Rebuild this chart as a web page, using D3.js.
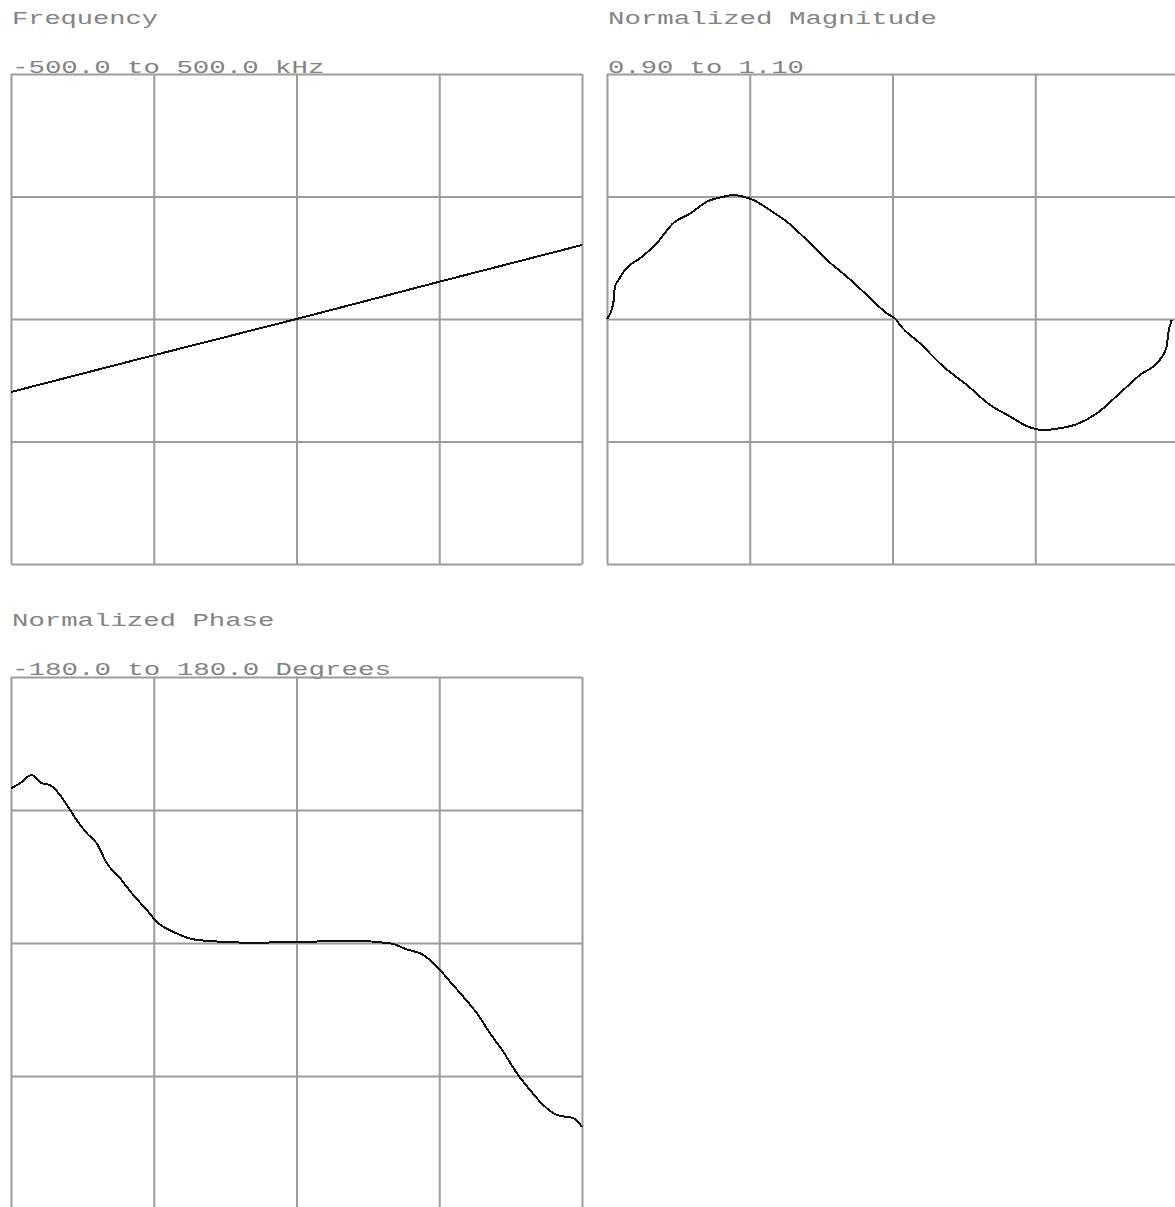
<!DOCTYPE html>
<html>
<head>
<meta charset="utf-8">
<script src="https://cdn.jsdelivr.net/npm/d3@7"></script>
<style>
  html, body { margin: 0; padding: 0; background: #ffffff; overflow: hidden; }
  svg { display: block; }
</style>
</head>
<body>
<svg id="chart" width="1175" height="1207"></svg>
<script>
// ---------------- data ----------------
// sweep position (percent of the capture) for the grid columns
const sweepTicks = [0, 25, 50, 75, 100];

// Frequency panel
const freqTitle = "Frequency";
const freqRange = "-500.0 to 500.0 kHz";
const freqTicks = [-500, -250, 0, 250, 500];
const freqPos = [0, 25, 50, 75, 100];
const freqValues = [-149, -74, 0, 76, 151];

// Normalized magnitude panel
const magTitle = "Normalized Magnitude";
const magRange = "0.90 to 1.10";
const magTicks = [0.90, 0.95, 1.00, 1.05, 1.10];
const magPos = [0, 1.1, 1.4, 2.0, 3.4, 5.8, 8.7, 11.6, 14.6, 17.5, 20.4, 22.1, 23.9, 25.6, 28.5, 31.5, 35.0, 38.5, 42.0, 45.5, 49.0, 50.7, 51.3, 54.8, 58.9, 63.0, 67.1, 70.6, 73.5, 76.4, 79.3, 82.3, 85.8, 89.8, 93.3, 96.8, 98.0, 98.3, 98.9];
const magValues = [1.0000, 1.0064, 1.0132, 1.0159, 1.0207, 1.0248, 1.0309, 1.0391, 1.0431, 1.0479, 1.0499, 1.0506, 1.0499, 1.0486, 1.0445, 1.0397, 1.0322, 1.0241, 1.0173, 1.0098, 1.0023, 0.9996, 0.9976, 0.9901, 0.9806, 0.9731, 0.9649, 0.9602, 0.9563, 0.9547, 0.9554, 0.9571, 0.9615, 0.9697, 0.9771, 0.9833, 0.9887, 0.9942, 0.9996];

// Normalized phase panel
const phaseTitle = "Normalized Phase";
const phaseRange = "-180.0 to 180.0 Degrees";
const phaseTicks = [-180, -90, 0, 90, 180];
const phasePos = [0, 1.6, 3.6, 5.4, 6.8, 8.6, 10.0, 11.5, 13.3, 15.0, 16.8, 19.1, 21.4, 23.8, 25.5, 28.4, 31.9, 36.6, 41.9, 50.0, 60.0, 66.4, 69.3, 72.2, 74.6, 76.9, 79.2, 81.6, 83.9, 86.2, 88.6, 90.9, 93.2, 95.6, 98.5, 100];
const phaseValues = [104.7, 108.1, 113.7, 108.1, 106.9, 100.1, 92.2, 83.2, 74.2, 67.5, 53.9, 43.8, 32.5, 22.3, 14.4, 7.6, 2.5, 0.9, 0.2, 0.7, 1.4, -0.2, -4.3, -8.1, -16.0, -26.2, -36.3, -47.6, -61.1, -73.5, -88.2, -99.5, -109.6, -116.4, -118.6, -124.5];

// ---------------- drawing ----------------
const svg = d3.select("#chart");
const CHAR_W = 16.65;
const textColor = "#838383";
const gridColor = "#9c9c9c";

function label(x, y, str) {
  svg.append("text")
    .attr("x", x).attr("y", y)
    .attr("font-family", "'Liberation Mono', 'DejaVu Sans Mono', monospace")
    .attr("font-size", 19)
    .attr("fill", textColor)
    .attr("textLength", str.length * CHAR_W - 4)
    .attr("lengthAdjust", "spacingAndGlyphs")
    .text(str);
}

function panel(cfg) {
  const x = d3.scaleLinear().domain([0, 100]).range([cfg.left, cfg.left + cfg.w]);
  const y = d3.scaleLinear().domain([cfg.ticks[0], cfg.ticks[cfg.ticks.length - 1]])
    .range([cfg.top + cfg.h, cfg.top]);

  label(cfg.left + 1, cfg.titleY, cfg.title);
  label(cfg.left + 1, cfg.rangeY, cfg.range);

  const g = svg.append("g");
  // vertical grid via axis
  const gx = g.append("g")
    .attr("transform", `translate(0,${cfg.top + cfg.h})`)
    .call(d3.axisBottom(x).tickValues(sweepTicks).tickSize(cfg.h).tickSizeOuter(0).tickFormat(""));
  gx.selectAll("line").attr("transform", `translate(0,${-cfg.h})`);
  // horizontal grid via axis
  g.append("g")
    .attr("transform", `translate(${cfg.left},0)`)
    .call(d3.axisLeft(y).tickValues(cfg.ticks).tickSize(-cfg.w).tickSizeOuter(0).tickFormat(""));
  g.selectAll(".domain").remove();
  g.selectAll("line").attr("stroke", gridColor).attr("stroke-width", 2);
  g.selectAll("text").remove();

  const pts = cfg.pos.map((p, i) => [p, cfg.values[i]]);
  svg.append("path")
    .datum(pts)
    .attr("fill", "none")
    .attr("stroke", "#111")
    .attr("stroke-width", 2)
    .attr("stroke-linejoin", "round")
    .attr("shape-rendering", "crispEdges")
    .attr("d", d3.line().x(d => x(d[0])).y(d => y(d[1])).curve(d3.curveMonotoneX));
}

panel({ left: 11, top: 74, w: 571, h: 490, title: freqTitle, range: freqRange,
        titleY: 24, rangeY: 73, ticks: freqTicks, pos: freqPos, values: freqValues });
panel({ left: 607, top: 74, w: 571, h: 490, title: magTitle, range: magRange,
        titleY: 24, rangeY: 73, ticks: magTicks, pos: magPos, values: magValues });
panel({ left: 11, top: 677, w: 571, h: 532, title: phaseTitle, range: phaseRange,
        titleY: 626, rangeY: 675, ticks: phaseTicks, pos: phasePos, values: phaseValues });
</script>
</body>
</html>
